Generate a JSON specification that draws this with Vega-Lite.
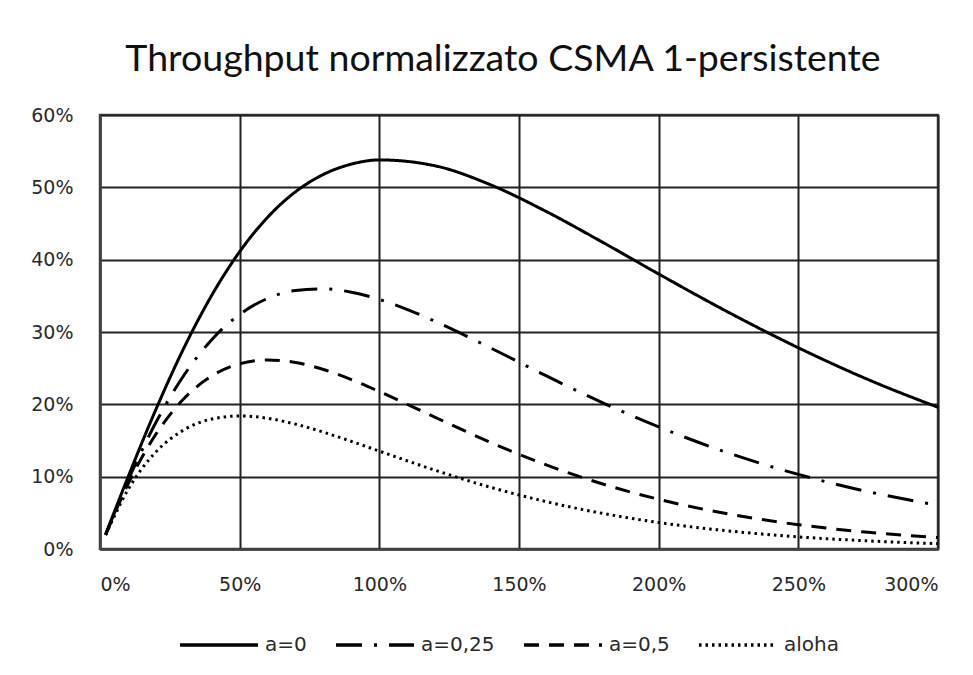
{
  "$schema": "https://vega.github.io/schema/vega-lite/v6.json",
  "width": 838,
  "height": 434,
  "autosize": "none",
  "padding": {"left": 100, "top": 115, "right": 35, "bottom": 126},
  "background": "white",
  "title": {
    "text": "Throughput normalizzato CSMA 1-persistente",
    "font": "Lato",
    "fontSize": 37.5,
    "fontWeight": "normal",
    "color": "#111111",
    "anchor": "middle",
    "offset": 28,
    "dx": -16
  },
  "data": {
    "values": [
      {"G": 0.02, "S": 0.0200, "serie": "a=0"},
      {"G": 0.1, "S": 0.0991, "serie": "a=0"},
      {"G": 0.2, "S": 0.1929, "serie": "a=0"},
      {"G": 0.3, "S": 0.2776, "serie": "a=0"},
      {"G": 0.4, "S": 0.3507, "serie": "a=0"},
      {"G": 0.5, "S": 0.4111, "serie": "a=0"},
      {"G": 0.6, "S": 0.4586, "serie": "a=0"},
      {"G": 0.7, "S": 0.4939, "serie": "a=0"},
      {"G": 0.8, "S": 0.5179, "serie": "a=0"},
      {"G": 0.9, "S": 0.5321, "serie": "a=0"},
      {"G": 1.0, "S": 0.5379, "serie": "a=0"},
      {"G": 1.2, "S": 0.5297, "serie": "a=0"},
      {"G": 1.4, "S": 0.5032, "serie": "a=0"},
      {"G": 1.6, "S": 0.4661, "serie": "a=0"},
      {"G": 1.8, "S": 0.4239, "serie": "a=0"},
      {"G": 2.0, "S": 0.3802, "serie": "a=0"},
      {"G": 2.25, "S": 0.3272, "serie": "a=0"},
      {"G": 2.5, "S": 0.2782, "serie": "a=0"},
      {"G": 2.75, "S": 0.2342, "serie": "a=0"},
      {"G": 3.0, "S": 0.1959, "serie": "a=0"},
      {"G": 0.02, "S": 0.0198, "serie": "a=0,25"},
      {"G": 0.1, "S": 0.0943, "serie": "a=0,25"},
      {"G": 0.2, "S": 0.1748, "serie": "a=0,25"},
      {"G": 0.3, "S": 0.2399, "serie": "a=0,25"},
      {"G": 0.4, "S": 0.2894, "serie": "a=0,25"},
      {"G": 0.5, "S": 0.3243, "serie": "a=0,25"},
      {"G": 0.6, "S": 0.3464, "serie": "a=0,25"},
      {"G": 0.7, "S": 0.3574, "serie": "a=0,25"},
      {"G": 0.8, "S": 0.3597, "serie": "a=0,25"},
      {"G": 0.9, "S": 0.3550, "serie": "a=0,25"},
      {"G": 1.0, "S": 0.3450, "serie": "a=0,25"},
      {"G": 1.2, "S": 0.3147, "serie": "a=0,25"},
      {"G": 1.4, "S": 0.2776, "serie": "a=0,25"},
      {"G": 1.6, "S": 0.2389, "serie": "a=0,25"},
      {"G": 1.8, "S": 0.2021, "serie": "a=0,25"},
      {"G": 2.0, "S": 0.1688, "serie": "a=0,25"},
      {"G": 2.25, "S": 0.1327, "serie": "a=0,25"},
      {"G": 2.5, "S": 0.1031, "serie": "a=0,25"},
      {"G": 2.75, "S": 0.0792, "serie": "a=0,25"},
      {"G": 3.0, "S": 0.0605, "serie": "a=0,25"},
      {"G": 0.02, "S": 0.0196, "serie": "a=0,5"},
      {"G": 0.1, "S": 0.0897, "serie": "a=0,5"},
      {"G": 0.2, "S": 0.1586, "serie": "a=0,5"},
      {"G": 0.3, "S": 0.2077, "serie": "a=0,5"},
      {"G": 0.4, "S": 0.2392, "serie": "a=0,5"},
      {"G": 0.5, "S": 0.2561, "serie": "a=0,5"},
      {"G": 0.6, "S": 0.2613, "serie": "a=0,5"},
      {"G": 0.7, "S": 0.2579, "serie": "a=0,5"},
      {"G": 0.8, "S": 0.2482, "serie": "a=0,5"},
      {"G": 0.9, "S": 0.2343, "serie": "a=0,5"},
      {"G": 1.0, "S": 0.2178, "serie": "a=0,5"},
      {"G": 1.2, "S": 0.1820, "serie": "a=0,5"},
      {"G": 1.4, "S": 0.1470, "serie": "a=0,5"},
      {"G": 1.6, "S": 0.1159, "serie": "a=0,5"},
      {"G": 1.8, "S": 0.0898, "serie": "a=0,5"},
      {"G": 2.0, "S": 0.0687, "serie": "a=0,5"},
      {"G": 2.25, "S": 0.0484, "serie": "a=0,5"},
      {"G": 2.5, "S": 0.0336, "serie": "a=0,5"},
      {"G": 2.75, "S": 0.0231, "serie": "a=0,5"},
      {"G": 3.0, "S": 0.0158, "serie": "a=0,5"},
      {"G": 0.02, "S": 0.0192, "serie": "aloha"},
      {"G": 0.1, "S": 0.0819, "serie": "aloha"},
      {"G": 0.2, "S": 0.1341, "serie": "aloha"},
      {"G": 0.3, "S": 0.1646, "serie": "aloha"},
      {"G": 0.4, "S": 0.1797, "serie": "aloha"},
      {"G": 0.5, "S": 0.1839, "serie": "aloha"},
      {"G": 0.6, "S": 0.1807, "serie": "aloha"},
      {"G": 0.7, "S": 0.1726, "serie": "aloha"},
      {"G": 0.8, "S": 0.1615, "serie": "aloha"},
      {"G": 0.9, "S": 0.1488, "serie": "aloha"},
      {"G": 1.0, "S": 0.1353, "serie": "aloha"},
      {"G": 1.2, "S": 0.1089, "serie": "aloha"},
      {"G": 1.4, "S": 0.0851, "serie": "aloha"},
      {"G": 1.6, "S": 0.0652, "serie": "aloha"},
      {"G": 1.8, "S": 0.0492, "serie": "aloha"},
      {"G": 2.0, "S": 0.0366, "serie": "aloha"},
      {"G": 2.25, "S": 0.0250, "serie": "aloha"},
      {"G": 2.5, "S": 0.0168, "serie": "aloha"},
      {"G": 2.75, "S": 0.0112, "serie": "aloha"},
      {"G": 3.0, "S": 0.0074, "serie": "aloha"}
    ]
  },
  "mark": {"type": "line", "interpolate": "monotone", "strokeWidth": 3, "color": "black"},
  "encoding": {
    "x": {
      "field": "G",
      "type": "quantitative",
      "scale": {"domain": [0, 3], "nice": false, "zero": true},
      "axis": {
        "title": null,
        "format": ".0%",
        "values": [0, 0.5, 1, 1.5, 2, 2.5, 3],
        "ticks": false,
        "labelPadding": 26,
        "labelFont": "DejaVu Sans",
        "labelFontSize": 19,
        "labelColor": "#2a2a2a",
        "gridColor": "#222222",
        "gridWidth": 2,
        "gridOpacity": 1,
        "domainColor": "#444444",
        "domainWidth": 2.5
      }
    },
    "y": {
      "field": "S",
      "type": "quantitative",
      "scale": {"domain": [0, 0.6], "nice": false},
      "axis": {
        "title": null,
        "format": ".0%",
        "values": [0, 0.1, 0.2, 0.3, 0.4, 0.5, 0.6],
        "ticks": false,
        "labelPadding": 27,
        "labelFont": "DejaVu Sans",
        "labelFontSize": 19,
        "labelColor": "#2a2a2a",
        "gridColor": "#222222",
        "gridWidth": 2,
        "gridOpacity": 1,
        "domainColor": "#444444",
        "domainWidth": 2.5
      }
    },
    "strokeDash": {
      "field": "serie",
      "type": "nominal",
      "scale": {
        "domain": ["a=0", "a=0,25", "a=0,5", "aloha"],
        "range": [[1, 0], [26, 12, 3, 12], [15, 10], [2.5, 4]]
      },
      "legend": {
        "title": null,
        "orient": "none",
        "direction": "horizontal",
        "legendX": 78,
        "legendY": 489,
        "padding": 0,
        "symbolType": "stroke",
        "symbolSize": 6084,
        "symbolStrokeWidth": 3.5,
        "symbolStrokeColor": "black",
        "labelFont": "DejaVu Sans",
        "labelFontSize": 20,
        "labelColor": "#2a2a2a",
        "labelOffset": 5,
        "columnPadding": 22
      }
    }
  },
  "config": {
    "view": {"stroke": "#444444", "strokeWidth": 2.5}
  }
}
